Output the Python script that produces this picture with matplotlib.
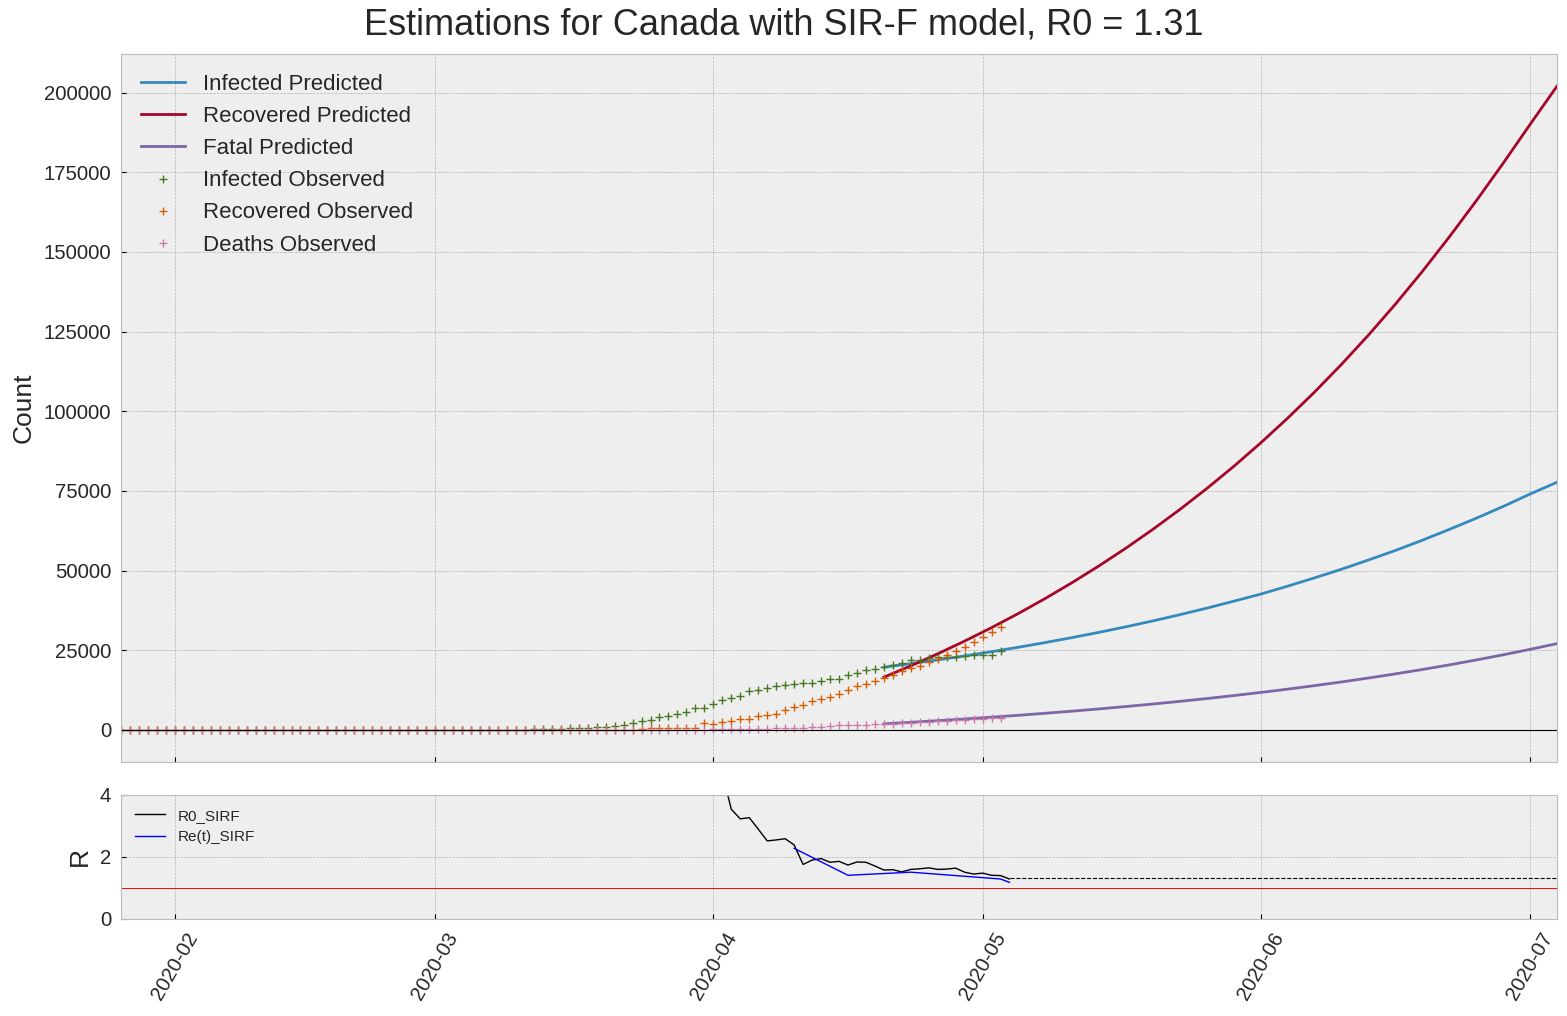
import matplotlib
matplotlib.use('Agg')
import matplotlib.pyplot as plt
import matplotlib.dates as mdates
import pandas as pd

plt.style.use('bmh')
plt.rcParams['font.family'] = ['Liberation Sans', 'DejaVu Sans']
TXT = '#262626'
plt.rcParams['text.color'] = TXT
plt.rcParams['axes.labelcolor'] = TXT
plt.rcParams['xtick.labelcolor'] = TXT
plt.rcParams['ytick.labelcolor'] = TXT

# ---------------- data ----------------
obs_start = '2020-01-26'
obs_end = '2020-05-03'

infected_obs = (
    [1, 1, 2, 2, 3, 3] +
    [4, 4, 4, 4, 5, 5, 5, 5, 6, 6, 6, 6, 6, 6, 6, 6, 6, 6, 6, 7, 7, 8, 9, 10, 11, 11, 11, 12, 13] +
    [20, 24, 27, 30, 37, 41, 50, 56, 68, 71, 95, 108, 186, 234, 300, 440, 560, 650, 760, 900,
     1150, 1600, 2240, 2880, 3050, 3870, 4280, 4980, 5540, 6790, 6790] +
    [8150, 9480, 10000, 10550, 12050, 12400, 13060, 13690, 14100, 14420, 14730, 14730, 15470, 15990,
     15990, 17240, 17870, 18810, 19020, 19800, 20380, 21000, 21950, 21950, 22470, 22700, 22900, 23000,
     23300, 23500] +
    [23500, 23500, 24800]
)
recovered_obs = (
    [0, 0, 0, 0, 0, 0] +
    [0, 0, 0, 0, 0, 0, 0, 0, 0, 0, 0, 0, 0, 0, 0, 0, 0, 0, 0, 0, 3, 3, 3, 3, 3, 3, 3, 3, 3] +
    [3, 3, 3, 4, 4, 4, 4, 4, 4, 4, 4, 4, 4, 5, 8, 8, 8, 8, 8, 9, 10, 10, 10, 110, 500, 500, 510,
     510, 510, 520, 2000] +
    [1900, 2400, 2720, 3240, 3550, 4200, 4700, 5020, 6370, 7100, 7940, 8990, 9720, 10240, 11290,
     12540, 13690, 14420, 15470, 16200, 17350, 18500, 19330, 20170, 21420, 22260, 23620, 24660,
     26130, 27690] +
    [29260, 30620, 32190]
)
deaths_obs = (
    [0, 0, 0, 0, 0, 0] +
    [0] * 29 +
    [0, 0, 0, 0, 0, 0, 0, 0, 1, 1, 1, 1, 1, 1, 1, 5, 8, 9, 12, 13, 19, 21, 24, 25, 26, 30, 38, 54,
     61, 64, 89] +
    [112, 139, 179, 218, 258, 323, 381, 427, 503, 650, 700, 950, 1000, 1080, 1400, 1480, 1530, 1580,
     1780, 1850, 1950, 2100, 2250, 2330, 2500, 2620, 2780, 2950, 3080, 3350] +
    [3550, 3750, 3850]
)

pred_dates = ['2020-04-20', '2020-04-23', '2020-04-26', '2020-04-29', '2020-05-02', '2020-05-05',
              '2020-05-08', '2020-05-11', '2020-05-14', '2020-05-17', '2020-05-20', '2020-05-23',
              '2020-05-26', '2020-05-29', '2020-06-01', '2020-06-04', '2020-06-07', '2020-06-10',
              '2020-06-13', '2020-06-16', '2020-06-19', '2020-06-22', '2020-06-25', '2020-06-28',
              '2020-07-01', '2020-07-04']
infected_pred = [19650, 20770, 21950, 23200, 24520, 25920, 27400, 28960, 30610, 32350, 34200,
                 36150, 38200, 40380, 42600, 45100, 47700, 50400, 53300, 56300, 59500, 62900,
                 66400, 70100, 74000, 77700]
recovered_pred = [16500, 20080, 23860, 27850, 32070, 36530, 41250, 46240, 51510, 57080, 62970,
                  69190, 75770, 82720, 90070, 97840, 106050, 114730, 123910, 133610, 143860,
                  154690, 166000, 177800, 190000, 202000]
fatal_pred = [1880, 2360, 2870, 3400, 3970, 4560, 5200, 5860, 6570, 7320, 8100, 8940, 9820,
              10750, 11730, 12770, 13870, 15030, 16260, 17560, 18930, 20380, 21920, 23540,
              25250, 27050]

r0_start = '2020-04-02'
r0_values = [4.7, 3.54, 3.23, 3.27, 2.90, 2.52, 2.55, 2.59, 2.39, 1.76, 1.90, 1.95, 1.83, 1.86,
             1.74, 1.84, 1.83, 1.71, 1.58, 1.59, 1.52, 1.60, 1.62, 1.65, 1.60, 1.61, 1.64, 1.51,
             1.45, 1.48, 1.41, 1.40, 1.29]
re_dates = ['2020-04-10', '2020-04-16', '2020-04-23', '2020-05-03', '2020-05-04']
re_values = [2.28, 1.41, 1.51, 1.29, 1.18]
r0_model = 1.31
r0_future = ['2020-05-04', '2020-07-04']

title = 'Estimations for Canada with SIR-F model, R0 = 1.31'

# ---------------- plot ----------------
obs_dates = pd.date_range(obs_start, obs_end, freq='D')
pdates = pd.to_datetime(pred_dates)
r0_dates = pd.date_range(r0_start, periods=len(r0_values), freq='D')
rdates = pd.to_datetime(re_dates)
fdates = pd.to_datetime(r0_future)

W, H = 1567, 1016
fig = plt.figure(figsize=(W / 100, H / 100), dpi=100)
ax = fig.add_axes([121 / W, 1 - 762 / H, (1557 - 121) / W, (762 - 54) / H])
ax2 = fig.add_axes([121 / W, 1 - 919 / H, (1557 - 121) / W, (919 - 795) / H], sharex=ax)

ax.plot(pdates, infected_pred, color='#348ABD', lw=2, label='Infected Predicted')
ax.plot(pdates, recovered_pred, color='#A60628', lw=2, label='Recovered Predicted')
ax.plot(pdates, fatal_pred, color='#7A68A6', lw=2, label='Fatal Predicted')
ax.plot(obs_dates, infected_obs, ls='', marker='+', color='#467821', label='Infected Observed')
ax.plot(obs_dates, recovered_obs, ls='', marker='+', color='#D55E00', label='Recovered Observed')
ax.plot(obs_dates, deaths_obs, ls='', marker='+', color='#CC79A7', label='Deaths Observed')
ax.axhline(0, color='black', lw=0.8)
ax.set_xlim(obs_dates[0], pdates[-1])
ax.set_ylabel('Count', fontsize=19, labelpad=6)
ax.tick_params(labelbottom=False, labelsize=14.6, pad=7)
ax.legend(loc='upper left', frameon=False, fontsize=16)

ax2.plot(r0_dates, r0_values, color='black', lw=1, label='R0_SIRF')
ax2.plot(rdates, re_values, color='blue', lw=1, label='Re(t)_SIRF')
ax2.plot(fdates, [r0_model, r0_model], color='black', lw=0.8, ls='--')
ax2.axhline(1, color='red', lw=0.7)
ax2.set_ylim(0, 4)
ax2.set_yticks([0, 2, 4])
ax2.set_ylabel('R', fontsize=19, labelpad=6)
ax2.tick_params(labelsize=14.6, pad=7)
ax2.legend(loc='upper left', frameon=False, fontsize=11)

ax2.xaxis.set_major_locator(mdates.MonthLocator())
ax2.xaxis.set_major_formatter(mdates.DateFormatter('%Y-%m'))
for lab in ax2.get_xticklabels():
    lab.set_rotation(60)
ax.set_xlim(obs_dates[0], pdates[-1])

fig.suptitle(title, fontsize=26, y=1 - 25 / H, va='center')
fig.savefig('out.png', dpi=100)
